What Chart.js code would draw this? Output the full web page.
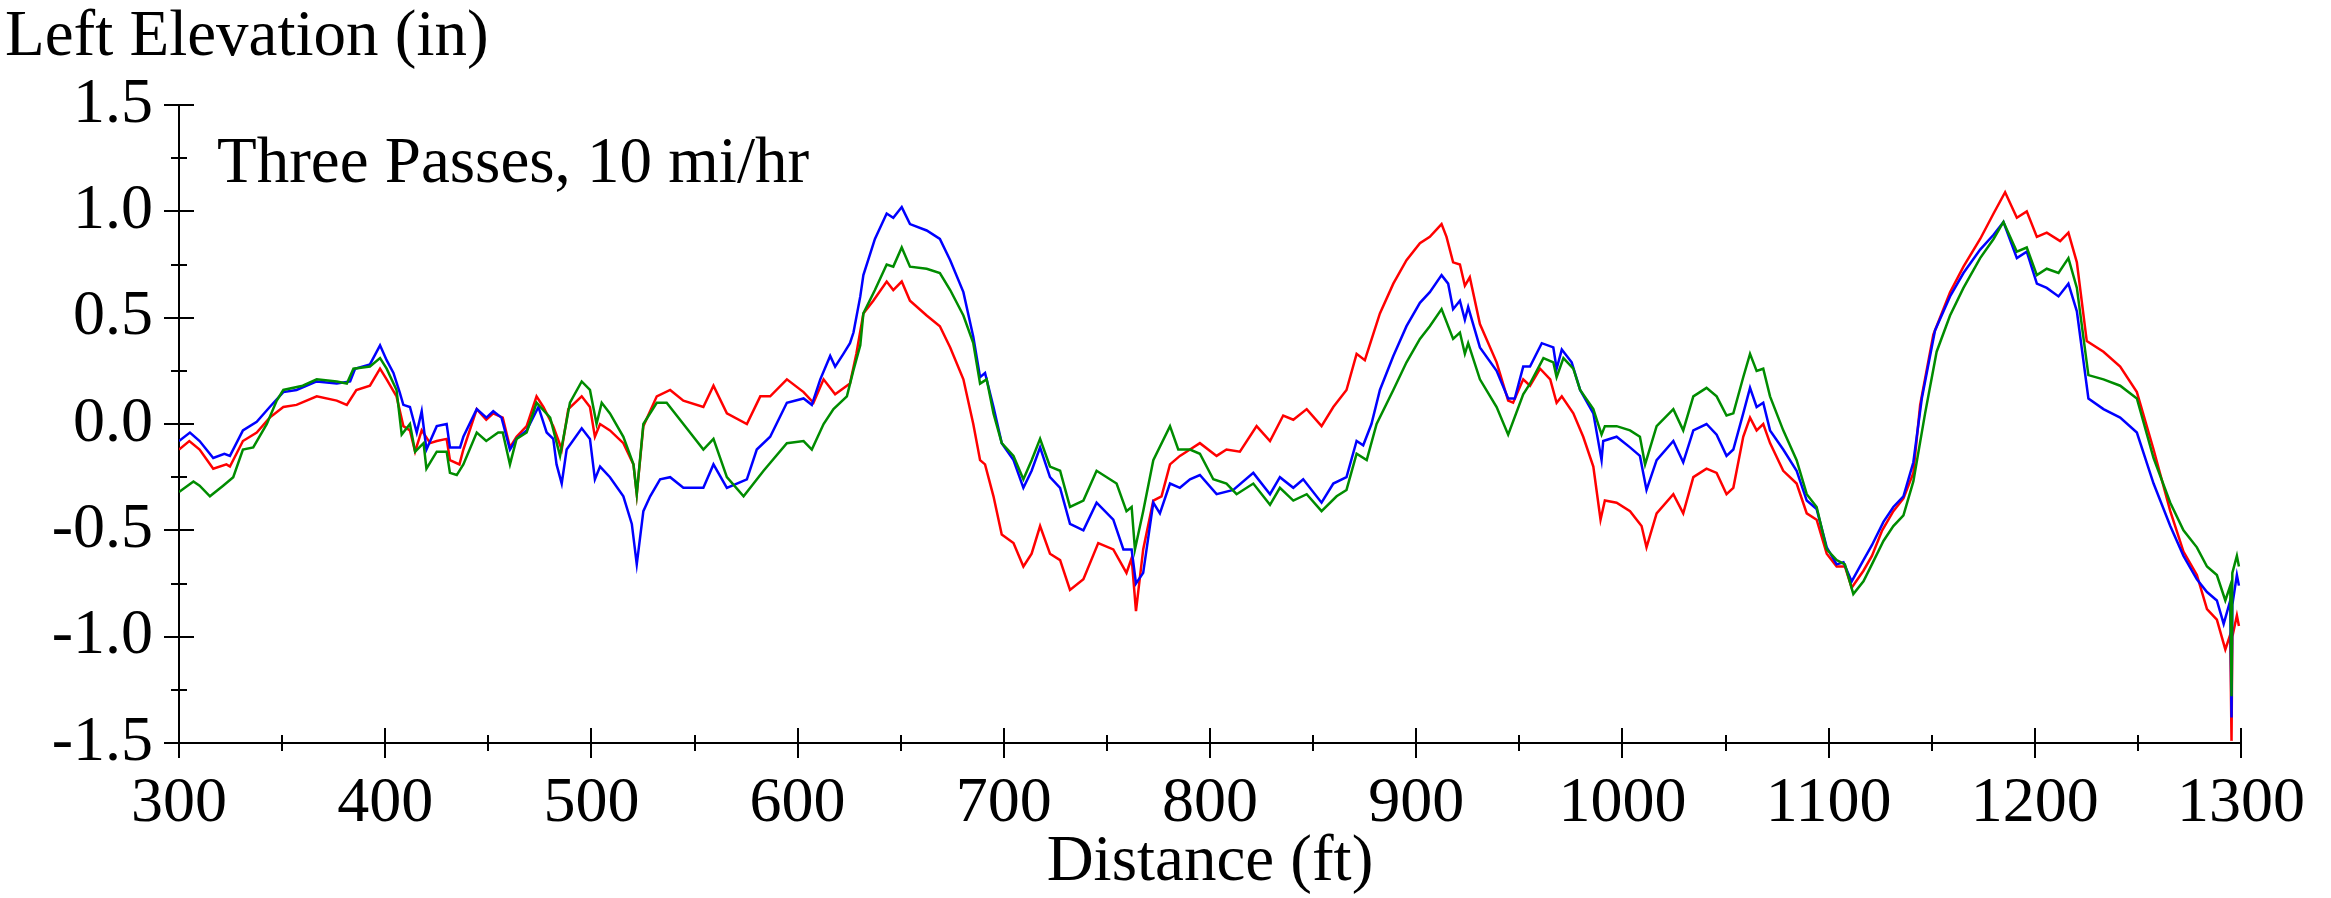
<!DOCTYPE html>
<html>
<head>
<meta charset="utf-8">
<title>Left Elevation</title>
<script src="https://cdn.jsdelivr.net/npm/chart.js@4.4.1/dist/chart.umd.min.js"></script>
<style>
  html, body { margin: 0; padding: 0; background: #fff; }
  canvas { display: block; }
</style>
</head>
<body>
<canvas id="chart" width="2331" height="898"></canvas>
<script>
// distance (ft) and left elevation (in)
const redDist = [300,305,310,316.6,323,324.7,331,337.7,344,350.6,357,366.8,376.5,381.4,386,392.6,397.5,400.7,405.5,408.8,412,414.5,417.7,421.8,425,429.8,431.4,436,437.9,444.4,449,452.4,457,
  460.5,463.7,468.6,473.4,476.7,481.5,485.6,488.8,495.3,499.3,501.7,504.2,509,515.5,520.4,522,525.2,531.7,538.2,544.6,554.3,559.2,565.7,575.4,581.9,586.7,594.8,602.9,607.7,612.6,618.2,623.9,
  625.4,628.5,631.9,636.7,643.2,646.4,650.5,654.5,662.6,669,674,680.4,685.2,688.5,690.9,695,699,704.7,709.5,713.5,717.6,722.4,727.3,732.1,738.6,745.8,753.1,759.5,762,764.1,767.6,772.5,776.5,780.6,785.4,
  790.3,795.1,803.2,808,814.5,822.6,829.1,835.5,840.4,846.9,854.1,859.8,866.2,871.1,875.1,882.4,888.9,895.3,901.8,906.6,912.3,914.7,917.9,921.2,923.6,926,930.9,939,944.6,947,951.9,
  955.2,960.1,965,968.1,970.6,976.2,981,985.9,989.4,991.5,997.2,1003.7,1009.3,1011.7,1016.6,1024.7,1029.5,1034.4,1040.8,1045.7,1050.5,1053.8,1058.6,1061.9,1065.1,1068.3,1071.6,1078,1084.5,1089.4,1094.2,1099.1,1103.9,1107.9,1111.2,1116.9,
  1121,1126,1131.4,1136.3,1141.1,1144.4,1150.8,1158.9,1165.4,1173.5,1180,1185.6,1191.3,1196.1,1201,1205.8,1212.3,1216.3,1220.4,1225.2,1233.3,1241.4,1249.5,1257.6,1265.7,1272.1,1278.6,1283.5,1288.3,1292.4,1294.8,1295.4,1295.8,1298,1299];
const redElev = [-0.12,-0.08,-0.12,-0.21,-0.19,-0.20,-0.08,-0.04,0.03,0.08,0.09,0.13,0.11,0.09,0.16,0.18,0.26,0.21,0.13,-0.01,-0.03,-0.13,-0.03,-0.09,-0.08,-0.07,-0.17,-0.19,-0.12,0.07,0.02,0.05,0.03,
  -0.11,-0.06,-0.01,0.13,0.08,-0.01,-0.12,0.07,0.13,0.08,-0.06,0.00,-0.03,-0.09,-0.19,-0.33,-0.01,0.13,0.16,0.11,0.08,0.18,0.05,0.00,0.13,0.13,0.21,0.15,0.10,0.21,0.14,0.18,
  0.19,0.33,0.52,0.58,0.67,0.63,0.67,0.58,0.51,0.46,0.36,0.21,0.00,-0.17,-0.19,-0.34,-0.52,-0.56,-0.67,-0.61,-0.48,-0.61,-0.64,-0.78,-0.73,-0.56,-0.59,-0.70,-0.63,-0.88,-0.59,-0.36,-0.34,-0.19,-0.15,
  -0.12,-0.09,-0.15,-0.12,-0.13,-0.01,-0.08,0.04,0.02,0.07,-0.01,0.08,0.16,0.33,0.30,0.52,0.66,0.77,0.85,0.88,0.94,0.88,0.76,0.75,0.65,0.69,0.47,0.29,0.11,0.10,0.21,
  0.18,0.26,0.21,0.10,0.13,0.05,-0.06,-0.20,-0.45,-0.36,-0.37,-0.41,-0.48,-0.58,-0.42,-0.33,-0.42,-0.25,-0.21,-0.23,-0.33,-0.30,-0.06,0.03,-0.03,0.00,-0.09,-0.22,-0.28,-0.42,-0.45,-0.61,-0.67,-0.67,-0.77,-0.69,
  -0.62,-0.50,-0.41,-0.35,-0.23,0.09,0.42,0.62,0.74,0.87,0.99,1.09,0.97,1.00,0.88,0.90,0.86,0.90,0.76,0.39,0.34,0.27,0.15,-0.12,-0.41,-0.60,-0.71,-0.87,-0.92,-1.06,-0.99,-1.49,-1.00,-0.90,-0.95];

const blueDist = [300,305.3,310,316.6,322,324.7,331,337.7,344,350.6,357,366.8,376.5,383,385.4,392.6,397.5,400.7,404,407,408.8,412,415.3,417.7,420,425,429.8,431.4,436.3,437.9,444.4,449.1,452.4,456.4,
  460.5,463.7,468.6,474.3,478.3,481.5,483.1,485.6,488,495.3,499.3,501.7,504.2,509,515.5,519.6,522,525.2,528.5,533.3,538.2,544.6,554.3,559.2,565.7,575.4,580.2,586.7,594.8,602.9,606.9,611,615.8,618.2,622.2,
  625.4,627.1,630.4,631.9,637.5,643.2,646.4,650.5,654.5,662.6,669,674,680.4,685.2,688.5,690.9,695,699,704.7,709.5,713.5,717.6,722.4,727.3,732.1,738.6,745,753.1,758,762,764.1,767.6,772.5,775.7,780.6,785.4,
  790.3,795.1,803.2,811.3,821,829.1,833.9,840.4,845.2,854.1,859.8,866.2,871.1,874.3,878.3,882.4,888.9,895.3,901.8,906.6,912.3,915.5,917.9,921.2,923.6,925.2,930.9,939,944.6,947.8,951.9,
  955.2,960.9,966.5,968.1,970.6,975.4,979.5,985.9,989.9,990.7,997.2,1003.7,1008.5,1011.7,1016.6,1024.7,1029.5,1034.4,1040.8,1045.7,1050.5,1053.8,1058.6,1061.9,1065.1,1068.3,1071.6,1078,1084.5,1089.4,1094.2,1099.1,1103.9,1107.2,1111.2,1116.9,
  1121,1126.6,1131.4,1136.3,1141.1,1145.2,1151.6,1158.9,1165.4,1173.5,1180,1184.8,1191.3,1196.1,1201,1205.8,1211.5,1216.3,1220.4,1226,1233.3,1241.4,1249.5,1257.6,1265.7,1272.1,1278.6,1283.5,1288.3,1291.6,1294.8,1295.4,1295.8,1298,1299];
const blueElev = [-0.08,-0.04,-0.08,-0.16,-0.14,-0.15,-0.03,0.01,0.08,0.15,0.16,0.20,0.19,0.20,0.26,0.28,0.37,0.30,0.24,0.15,0.09,0.08,-0.04,0.06,-0.12,-0.01,0.00,-0.11,-0.11,-0.06,0.07,0.03,0.06,0.03,
  -0.12,-0.07,-0.03,0.08,-0.04,-0.07,-0.19,-0.28,-0.12,-0.02,-0.07,-0.26,-0.20,-0.25,-0.34,-0.47,-0.66,-0.41,-0.34,-0.26,-0.25,-0.30,-0.30,-0.19,-0.30,-0.26,-0.12,-0.06,0.10,0.12,0.09,0.21,0.32,0.27,0.33,
  0.38,0.43,0.60,0.70,0.87,0.99,0.97,1.02,0.94,0.91,0.87,0.77,0.62,0.41,0.22,0.24,0.08,-0.09,-0.17,-0.30,-0.22,-0.11,-0.25,-0.30,-0.47,-0.50,-0.37,-0.45,-0.59,-0.59,-0.75,-0.70,-0.37,-0.42,-0.28,-0.30,
  -0.26,-0.24,-0.33,-0.31,-0.23,-0.33,-0.25,-0.30,-0.26,-0.37,-0.28,-0.25,-0.08,-0.10,0.00,0.16,0.32,0.46,0.57,0.62,0.70,0.66,0.54,0.58,0.49,0.55,0.36,0.25,0.12,0.12,0.27,
  0.27,0.38,0.36,0.26,0.35,0.29,0.16,0.05,-0.17,-0.08,-0.06,-0.11,-0.15,-0.31,-0.17,-0.08,-0.18,-0.03,0.00,-0.05,-0.15,-0.12,0.05,0.17,0.08,0.10,-0.03,-0.12,-0.22,-0.36,-0.40,-0.58,-0.66,-0.65,-0.74,-0.64,
  -0.57,-0.46,-0.39,-0.34,-0.18,0.12,0.44,0.60,0.71,0.82,0.89,0.95,0.78,0.81,0.66,0.64,0.60,0.66,0.53,0.12,0.07,0.03,-0.04,-0.28,-0.48,-0.62,-0.73,-0.79,-0.83,-0.94,-0.83,-1.38,-0.85,-0.71,-0.76];

const greenDist = [300,307,310,315,321.4,326.3,331,336,342.6,347.4,350.6,360,366.8,376.5,381.4,384.6,392.6,397.5,400.7,405.5,408,412,414.5,418.6,420,425,429.8,431.4,434.7,437.9,444.4,449,454.8,457,
  460.5,463.7,468.6,473.4,480,484.8,489.6,495.3,499.3,502.5,505,509,515.5,520.4,522,525.2,531.7,536.5,544.6,554.3,559.2,565.7,573.8,583.5,594.8,602.9,606.9,612.6,617.4,623.9,
  627,630.4,631.9,637.5,643.2,646.4,650.5,654.5,662.6,669,674,680.4,685.2,688.5,691.7,695,699,704.7,709.5,713.5,717.6,722.4,727.3,732.1,738.6,745,754.7,759.5,762,763.6,767.6,772.5,780.6,784.6,
  790.3,795.1,801.6,808,812.9,821,829.1,833.9,840.4,846.9,854.1,861.4,866.2,871.1,876,880.8,888.9,895.3,901.8,906.6,912.3,917.9,921.2,923.6,925.2,930.9,939,944.6,951.9,
  955.2,961.7,966.5,968.1,971.4,976.2,979.5,985.9,989.9,991.5,997.2,1003.7,1008.5,1011,1016.6,1024.7,1029.5,1034.4,1040.8,1045.7,1050.5,1053.8,1058.6,1061.9,1065.1,1068.3,1071.6,1078,1084.5,1089.4,1094.2,1099.1,1103.9,1107.9,1112,1116.9,
  1121,1126.6,1131.4,1136.3,1141.1,1146.8,1152.4,1158.9,1165.4,1173.5,1180,1184.8,1191.3,1196.1,1201,1205.8,1211.5,1216.3,1220.4,1226,1233.3,1241.4,1249.5,1257.6,1265.7,1272.1,1278.6,1283.5,1288.3,1292.4,1294.8,1295.4,1295.8,1298,1299];
const greenElev = [-0.32,-0.27,-0.29,-0.34,-0.29,-0.25,-0.12,-0.11,0.00,0.11,0.16,0.18,0.21,0.20,0.19,0.26,0.27,0.31,0.26,0.16,-0.05,0.00,-0.13,-0.09,-0.21,-0.13,-0.13,-0.23,-0.24,-0.19,-0.04,-0.08,-0.04,-0.04,
  -0.19,-0.07,-0.04,0.10,0.03,-0.15,0.10,0.20,0.16,0.00,0.10,0.05,-0.06,-0.19,-0.33,0.00,0.10,0.10,0.00,-0.12,-0.07,-0.25,-0.34,-0.22,-0.09,-0.08,-0.12,0.00,0.07,0.13,
  0.25,0.37,0.52,0.63,0.75,0.74,0.83,0.74,0.73,0.71,0.63,0.51,0.38,0.19,0.21,0.05,-0.09,-0.15,-0.26,-0.17,-0.07,-0.20,-0.22,-0.39,-0.36,-0.22,-0.28,-0.41,-0.39,-0.59,-0.41,-0.17,-0.01,-0.12,
  -0.12,-0.14,-0.26,-0.28,-0.33,-0.28,-0.38,-0.30,-0.36,-0.33,-0.41,-0.34,-0.31,-0.14,-0.17,0.00,0.16,0.29,0.40,0.46,0.54,0.40,0.43,0.33,0.38,0.21,0.08,-0.05,0.14,
  0.19,0.31,0.29,0.22,0.31,0.26,0.16,0.07,-0.05,-0.01,-0.01,-0.03,-0.06,-0.19,-0.01,0.07,-0.03,0.13,0.17,0.13,0.04,0.05,0.22,0.33,0.25,0.26,0.13,-0.03,-0.17,-0.33,-0.39,-0.59,-0.64,-0.66,-0.80,-0.74,
  -0.66,-0.55,-0.48,-0.43,-0.27,0.05,0.34,0.51,0.64,0.78,0.87,0.95,0.81,0.83,0.70,0.73,0.71,0.78,0.64,0.23,0.21,0.18,0.12,-0.16,-0.37,-0.50,-0.58,-0.67,-0.71,-0.83,-0.76,-1.28,-0.70,-0.62,-0.67];

const xMajorTicks = [300,400,500,600,700,800,900,1000,1100,1200,1300];
const xMinorTicks = [350,450,550,650,750,850,950,1050,1150,1250];
const yMajorTicks = [-1.5,-1.0,-0.5,0.0,0.5,1.0,1.5];
const yMinorTicks = [-1.25,-0.75,-0.25,0.25,0.75,1.25];

const FONT = '"Liberation Serif", "Times New Roman", serif';

function pairs(xs, ys) {
  return xs.map((x, i) => ({ x: x, y: ys[i] }));
}

// ticks that cross the axis lines, like the original plot
const crossTicks = {
  id: 'crossTicks',
  afterDraw(chart) {
    const ctx = chart.ctx;
    const xs = chart.scales.x;
    const ys = chart.scales.y;
    const area = chart.chartArea;
    ctx.save();
    ctx.strokeStyle = '#000';
    ctx.lineWidth = 2;
    ctx.beginPath();
    yMajorTicks.forEach(v => {
      const py = Math.round(ys.getPixelForValue(v));
      ctx.moveTo(area.left - 15, py); ctx.lineTo(area.left + 15, py);
    });
    yMinorTicks.forEach(v => {
      const py = Math.round(ys.getPixelForValue(v));
      ctx.moveTo(area.left - 8, py); ctx.lineTo(area.left + 8, py);
    });
    xMajorTicks.forEach(v => {
      const px = Math.round(xs.getPixelForValue(v));
      ctx.moveTo(px, area.bottom - 15); ctx.lineTo(px, area.bottom + 15);
    });
    xMinorTicks.forEach(v => {
      const px = Math.round(xs.getPixelForValue(v));
      ctx.moveTo(px, area.bottom - 8); ctx.lineTo(px, area.bottom + 8);
    });
    ctx.stroke();

    // titles and the note
    ctx.fillStyle = '#000';
    ctx.font = '65px ' + FONT;
    ctx.textBaseline = 'alphabetic';
    ctx.textAlign = 'left';
    ctx.fillText('Left Elevation (in)', 5, 55);
    ctx.fillText('Three Passes, 10 mi/hr', area.left + 38, area.top + 77);
    ctx.textAlign = 'center';
    ctx.fillText('Distance (ft)', (area.left + area.right) / 2, 880);
    ctx.restore();
  }
};

new Chart(document.getElementById('chart'), {
  type: 'line',
  data: {
    datasets: [
      { label: 'Pass 1', data: pairs(redDist, redElev), borderColor: '#ff0000', order: 3 },
      { label: 'Pass 2', data: pairs(blueDist, blueElev), borderColor: '#0000ff', order: 2 },
      { label: 'Pass 3', data: pairs(greenDist, greenElev), borderColor: '#008c00', order: 1 }
    ]
  },
  options: {
    responsive: false,
    animation: false,
    parsing: false,
    elements: {
      line: { borderWidth: 2.5, tension: 0, fill: false },
      point: { radius: 0 }
    },
    layout: { padding: { top: 105, right: 90, left: 0, bottom: 0 } },
    plugins: {
      legend: { display: false },
      tooltip: { enabled: false },
      title: { display: false }
    },
    scales: {
      x: {
        type: 'linear',
        min: 300,
        max: 1300,
        afterFit(scale) { scale.height = 155; },
        grid: { display: false, drawTicks: false },
        border: { display: true, color: '#000', width: 2 },
        ticks: {
          stepSize: 100,
          padding: 23,
          color: '#000',
          maxRotation: 0,
          font: { family: FONT, size: 64 },
          callback: v => String(v)
        }
      },
      y: {
        type: 'linear',
        min: -1.5,
        max: 1.5,
        afterFit(scale) { scale.width = 179; },
        grid: { display: false, drawTicks: false },
        border: { display: true, color: '#000', width: 2 },
        ticks: {
          stepSize: 0.5,
          padding: 26,
          color: '#000',
          font: { family: FONT, size: 64 },
          callback: v => v.toFixed(1)
        }
      }
    }
  },
  plugins: [crossTicks]
});
</script>
</body>
</html>
